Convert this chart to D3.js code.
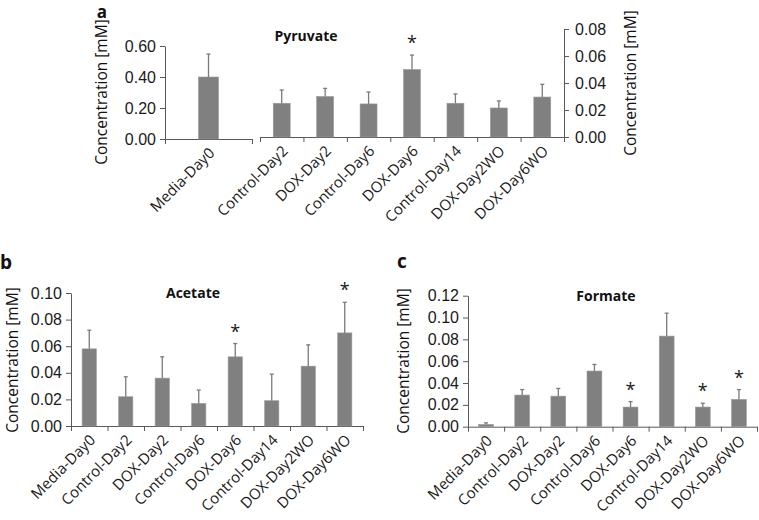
<!DOCTYPE html>
<html lang="en">
<head>
<meta charset="UTF-8">
<title>Pyruvate / Acetate / Formate</title>
<script src="https://cdn.jsdelivr.net/npm/d3@7"></script>
<style>
    body { margin: 0; background: white; }
    svg { display: block; font-family: "Open Sans", sans-serif; }
    .axis path, .axis line { stroke: #595959; stroke-width: 1; }
    .axis text { font-size: 16px; fill: #1a1a1a; }
</style>
</head>
<body>
<svg id="chart" width="759" height="520"></svg>
<script>
    // categories on every panel
    const categories = ["Media-Day0", "Control-Day2", "DOX-Day2", "Control-Day6",
        "DOX-Day6", "Control-Day14", "DOX-Day2WO", "DOX-Day6WO"];

    // a: Pyruvate (Media-Day0 on the left axis, the rest on the right axis)
    const pyruvateMean = [0.40, 0.025, 0.030, 0.0245, 0.050, 0.025, 0.0215, 0.0296];
    const pyruvateSD   = [0.148, 0.0098, 0.006, 0.0088, 0.0107, 0.0069, 0.0052, 0.0094];
    const pyruvateStars = ["DOX-Day6"];
    const pyruvateLeftTicks = [0, 0.2, 0.4, 0.6];
    const pyruvateRightTicks = [0, 0.02, 0.04, 0.06, 0.08];

    // b: Acetate
    const acetateMean = [0.058, 0.022, 0.036, 0.017, 0.052, 0.019, 0.045, 0.070];
    const acetateSD   = [0.014, 0.015, 0.016, 0.010, 0.010, 0.020, 0.016, 0.023];
    const acetateStars = ["DOX-Day6", "DOX-Day6WO"];
    const acetateTicks = [0, 0.02, 0.04, 0.06, 0.08, 0.10];

    // c: Formate
    const formateMean = [0.002, 0.029, 0.028, 0.051, 0.018, 0.083, 0.018, 0.025];
    const formateSD   = [0.0015, 0.005, 0.007, 0.006, 0.005, 0.021, 0.0035, 0.009];
    const formateStars = ["DOX-Day6", "DOX-Day2WO", "DOX-Day6WO"];
    const formateTicks = [0, 0.02, 0.04, 0.06, 0.08, 0.10, 0.12];

    const svg = d3.select("#chart");
    const fmt = d3.format(".2f");
    const barColor = "#808080";

    function yAxis(x, y, ticks, side) {
        let ax = (side === "right" ? d3.axisRight(y) : d3.axisLeft(y))
            .tickValues(ticks).tickFormat(fmt)
            .tickSize(5).tickSizeOuter(0)
            .tickPadding(side === "right" ? 6 : 4);
        svg.append("g").attr("class", "axis")
            .attr("transform", `translate(${x},0)`)
            .call(ax);
    }

    // x baseline with ticks on the band edges, rotated labels, bars, error bars, stars
    function barGroup(cats, means, sds, stars, xr, y, barFrac) {
        const n = cats.length;
        const x = d3.scaleBand().domain(cats).range(xr);
        const edges = d3.scaleLinear().domain([0, n]).range(xr);
        const base = y(0);

        svg.append("g").attr("class", "axis")
            .attr("transform", `translate(0,${base})`)
            .call(d3.axisBottom(edges).tickValues(d3.range(n + 1))
                .tickFormat("").tickSize(5).tickSizeOuter(0));

        const rows = cats.map((c, i) => ({c: c, m: means[i], s: sds[i]}));
        const bw = x.bandwidth() * barFrac;
        const cx = d => x(d.c) + x.bandwidth() / 2;

        svg.append("g").selectAll("rect").data(rows).join("rect")
            .attr("x", d => cx(d) - bw / 2)
            .attr("width", bw)
            .attr("y", d => y(d.m))
            .attr("height", d => base - y(d.m))
            .attr("fill", barColor)
            .attr("stroke", "#999")
            .attr("stroke-width", 0.6);

        const err = svg.append("g").attr("stroke", "#7a7a7a").attr("stroke-width", 1.3);
        err.selectAll("line.v").data(rows).join("line").attr("class", "v")
            .attr("x1", cx).attr("x2", cx)
            .attr("y1", d => y(d.m)).attr("y2", d => y(d.m + d.s));
        err.selectAll("line.h").data(rows).join("line").attr("class", "h")
            .attr("x1", d => cx(d) - 2).attr("x2", d => cx(d) + 2)
            .attr("y1", d => y(d.m + d.s)).attr("y2", d => y(d.m + d.s));

        svg.append("g").selectAll("text").data(rows.filter(d => stars.includes(d.c))).join("text")
            .attr("x", cx)
            .attr("y", d => y(d.m + d.s) - 6)
            .attr("text-anchor", "middle")
            .attr("font-size", 18)
            .attr("fill", "#1a1a1a")
            .text("*");

        svg.append("g").selectAll("text").data(rows).join("text")
            .attr("transform", d => `translate(${cx(d) + 7},${base + 15}) rotate(-45)`)
            .attr("text-anchor", "end")
            .attr("font-size", 15)
            .attr("fill", "#1a1a1a")
            .text(d => d.c);
    }

    function label(txt, x, y, opts) {
        let t = svg.append("text")
            .attr("x", x).attr("y", y)
            .attr("text-anchor", "middle")
            .attr("fill", "#111")
            .text(txt);
        if (opts.size) t.attr("font-size", opts.size);
        if (opts.bold) t.attr("font-weight", "bold");
        if (opts.rot) t.attr("transform", `rotate(${opts.rot},${x},${y})`);
        return t;
    }

    // ---- panel a ----
    const yaL = d3.scaleLinear().domain([0, 0.6]).range([139, 46]);
    const yaR = d3.scaleLinear().domain([0, 0.08]).range([137, 29]);
    barGroup(categories.slice(0, 1), pyruvateMean.slice(0, 1), pyruvateSD.slice(0, 1),
        pyruvateStars, [165, 252], yaL, 0.23);
    barGroup(categories.slice(1), pyruvateMean.slice(1), pyruvateSD.slice(1),
        pyruvateStars, [260, 564], yaR, 0.39);
    yAxis(165, yaL, pyruvateLeftTicks, "left");
    yAxis(564, yaR, pyruvateRightTicks, "right");
    label("Concentration [mM]", 107, 92, {size: 15.5, rot: -90});
    label("Concentration [mM]", 636, 83, {size: 15.5, rot: -90});
    label("Pyruvate", 306, 41, {size: 14, bold: true});
    label("a", 102, 18, {size: 17, bold: true});

    // ---- panel b ----
    const yb = d3.scaleLinear().domain([0, 0.10]).range([426, 293]);
    barGroup(categories, acetateMean, acetateSD, acetateStars, [71, 363], yb, 0.39);
    yAxis(71, yb, acetateTicks, "left");
    label("Concentration [mM]", 18, 360, {size: 15.5, rot: -90});
    label("Acetate", 193, 298, {size: 14, bold: true});
    label("b", 6, 269, {size: 19, bold: true});

    // ---- panel c ----
    const yc = d3.scaleLinear().domain([0, 0.12]).range([426.7, 295.7]);
    barGroup(categories, formateMean, formateSD, formateStars, [468, 757], yc, 0.41);
    yAxis(468, yc, formateTicks, "left");
    label("Concentration [mM]", 409, 361, {size: 15.5, rot: -90});
    label("Formate", 606, 301, {size: 14, bold: true});
    label("c", 402, 268, {size: 19, bold: true});
</script>
</body>
</html>
